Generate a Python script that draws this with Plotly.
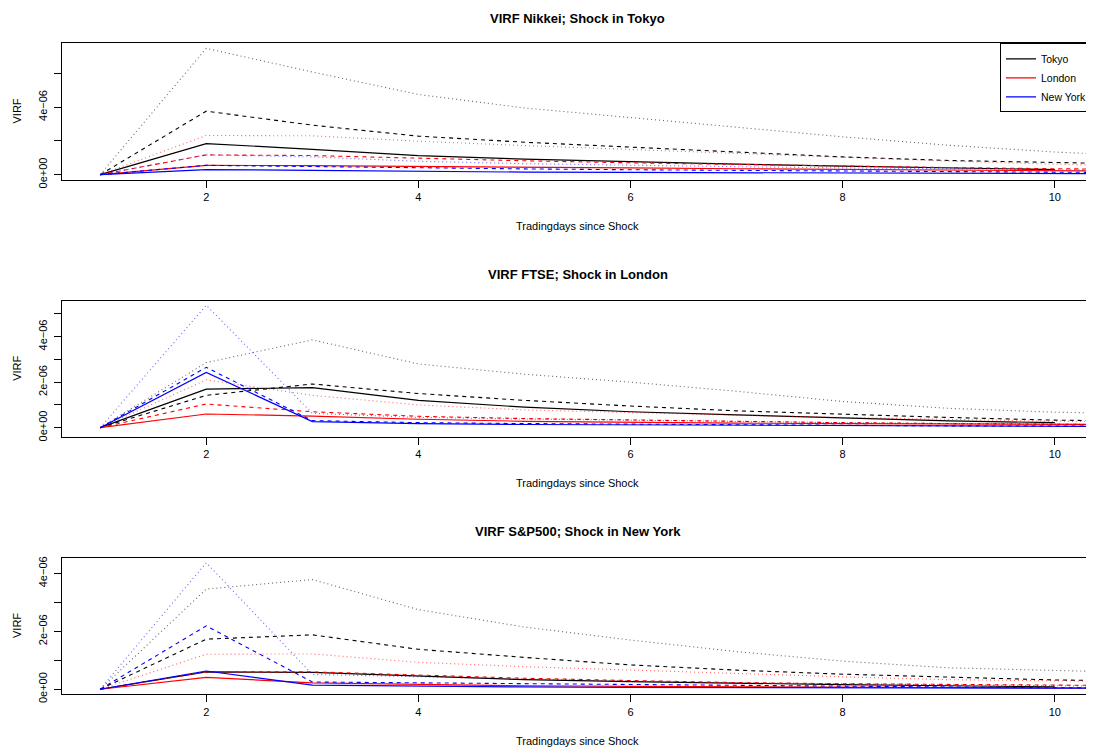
import plotly.graph_objects as go

# ---------------- data ----------------
days = [1, 2, 3, 4, 5, 6, 7, 8, 9, 10, 11]
x_ticks = [2, 4, 6, 8, 10]

cities = ["Tokyo", "London", "New York"]
city_colors = ["#000000", "#FF0000", "#0000FF"]

panel_titles = ["VIRF Nikkei; Shock in Tokyo",
                "VIRF FTSE; Shock in London",
                "VIRF S&P500; Shock in New York"]
x_title = "Tradingdays since Shock"
y_title = "VIRF"

# values in units of 1e-06
# Panel 1: Nikkei, shock in Tokyo
p1_tokyo_est = [0, 1.84, 1.50, 1.13, 0.92, 0.75, 0.62, 0.50, 0.40, 0.30]
p1_tokyo_q1 = [0, 3.76, 2.93, 2.28, 1.92, 1.64, 1.36, 1.05, 0.84, 0.69, 0.60]
p1_tokyo_q2 = [0, 7.48, 6.08, 4.75, 3.95, 3.39, 2.79, 2.24, 1.74, 1.34, 1.05]
p1_london_est = [0, 0.55, 0.53, 0.50, 0.45, 0.40, 0.35, 0.30, 0.26, 0.22, 0.19]
p1_london_q1 = [0, 1.17, 1.13, 0.97, 0.82, 0.70, 0.60, 0.50, 0.42, 0.35, 0.30]
p1_london_q2 = [0, 2.32, 2.30, 1.98, 1.72, 1.48, 1.24, 1.00, 0.80, 0.62, 0.50]
p1_ny_est = [0, 0.30, 0.25, 0.18, 0.15, 0.13, 0.11, 0.09, 0.07, 0.06, 0.05]
p1_ny_q1 = [0, 0.55, 0.48, 0.40, 0.34, 0.29, 0.24, 0.20, 0.16, 0.13, 0.11]
p1_ny_q2 = [0, 1.17, 1.05, 0.79, 0.65, 0.55, 0.47, 0.40, 0.34, 0.28, 0.24]

# Panel 2: FTSE, shock in London
p2_tokyo_est = [0, 1.69, 1.76, 1.20, 0.90, 0.70, 0.56, 0.42, 0.30, 0.22]
p2_tokyo_q1 = [0, 1.42, 1.92, 1.50, 1.20, 0.95, 0.74, 0.59, 0.45, 0.33, 0.28]
p2_tokyo_q2 = [0, 2.86, 3.86, 2.80, 2.35, 2.00, 1.60, 1.15, 0.85, 0.68, 0.60]
p2_london_est = [0, 0.60, 0.51, 0.37, 0.28, 0.23, 0.20, 0.18, 0.16, 0.14, 0.13]
p2_london_q1 = [0, 1.04, 0.70, 0.50, 0.40, 0.33, 0.27, 0.22, 0.18, 0.14, 0.12]
p2_london_q2 = [0, 2.10, 1.42, 1.00, 0.78, 0.65, 0.55, 0.45, 0.36, 0.28, 0.24]
p2_ny_est = [0, 2.43, 0.27, 0.18, 0.14, 0.12, 0.10, 0.08, 0.07, 0.06, 0.05]
p2_ny_q1 = [0, 2.65, 0.31, 0.22, 0.18, 0.15, 0.12, 0.10, 0.08, 0.07, 0.06]
p2_ny_q2 = [0, 5.38, 0.63, 0.45, 0.38, 0.32, 0.27, 0.22, 0.18, 0.15, 0.13]

# Panel 3: S&P500, shock in New York
p3_tokyo_est = [0, 0.60, 0.58, 0.45, 0.33, 0.26, 0.20, 0.16, 0.12, 0.08]
p3_tokyo_q1 = [0, 1.73, 1.88, 1.38, 1.10, 0.84, 0.66, 0.52, 0.42, 0.32, 0.28]
p3_tokyo_q2 = [0, 3.46, 3.79, 2.75, 2.15, 1.70, 1.30, 0.97, 0.74, 0.63, 0.56]
p3_london_est = [0, 0.41, 0.22, 0.16, 0.12, 0.10, 0.08, 0.07, 0.06, 0.05, 0.04]
p3_london_q1 = [0, 0.60, 0.60, 0.49, 0.38, 0.30, 0.23, 0.19, 0.16, 0.14, 0.12]
p3_london_q2 = [0, 1.21, 1.22, 0.93, 0.78, 0.66, 0.55, 0.43, 0.33, 0.28, 0.25]
p3_ny_est = [0, 0.63, 0.14, 0.10, 0.08, 0.06, 0.05, 0.04, 0.04, 0.03, 0.03]
p3_ny_q1 = [0, 2.19, 0.25, 0.22, 0.18, 0.15, 0.12, 0.09, 0.07, 0.05, 0.04]
p3_ny_q2 = [0, 4.37, 0.51, 0.43, 0.35, 0.28, 0.22, 0.18, 0.14, 0.11, 0.09]

panel_series = [
    [(p1_tokyo_est, p1_tokyo_q1, p1_tokyo_q2),
     (p1_london_est, p1_london_q1, p1_london_q2),
     (p1_ny_est, p1_ny_q1, p1_ny_q2)],
    [(p2_tokyo_est, p2_tokyo_q1, p2_tokyo_q2),
     (p2_london_est, p2_london_q1, p2_london_q2),
     (p2_ny_est, p2_ny_q1, p2_ny_q2)],
    [(p3_tokyo_est, p3_tokyo_q1, p3_tokyo_q2),
     (p3_london_est, p3_london_q1, p3_london_q2),
     (p3_ny_est, p3_ny_q1, p3_ny_q2)],
]

y_tickvals = [[0, 2e-6, 4e-6, 6e-6],
              [0, 1e-6, 2e-6, 3e-6, 4e-6, 5e-6],
              [0, 1e-6, 2e-6, 3e-6, 4e-6]]
y_ticktext = [["0e+00", "", "4e\u221206", ""],
              ["0e+00", "", "2e\u221206", "", "4e\u221206", ""],
              ["0e+00", "", "2e\u221206", "", "4e\u221206"]]
y_ranges = [[-0.30e-6, 7.78e-6], [-0.41e-6, 5.58e-6], [-0.175e-6, 4.545e-6]]

# ---------------- layout geometry (pixels in the window) ----------------
OFF = 8  # default page body margin
W, H = 1094 - OFF, 751 - OFF
FONT = "Liberation Sans, Arial, Helvetica, sans-serif"
box_left, box_right = 62 - OFF, 1093 - OFF
box_tops = [t - OFF for t in [43.3, 300.7, 557.7]]
box_bottoms = [b - OFF for b in [179.7, 437.0, 694.3]]
title_y = [t - OFF for t in [18, 274, 531]]
xlab_y = [t - OFF for t in [226, 483, 741]]
ylab_x = 17 - OFF

def px(v):
    return v / W

def py(v):
    return 1 - v / H

fig = go.Figure()
dash_styles = ["solid", "4px,4px", "1px,3px"]
widths = [1.2, 1.1, 1.1]
opacities = [1.0, 1.0, 0.6]

for p in range(3):
    xa = "x" if p == 0 else f"x{p+1}"
    ya = "y" if p == 0 else f"y{p+1}"
    for c, city in enumerate(cities):
        for s in range(3):
            vals = panel_series[p][c][s]
            fig.add_trace(go.Scatter(
                x=days[:len(vals)], y=[v * 1e-6 for v in vals],
                mode="lines", opacity=opacities[s],
                line=dict(color=city_colors[c], width=widths[s], dash=dash_styles[s]),
                name=city, legendgroup=city,
                showlegend=(p == 0 and s == 0),
                xaxis=xa, yaxis=ya, hoverinfo="skip"))

layout = dict(
    width=W, height=H,
    margin=dict(l=0, r=0, t=0, b=0, autoexpand=False),
    paper_bgcolor="white", plot_bgcolor="white",
    font=dict(family=FONT, size=11, color="black"),
    showlegend=True,
    legend=dict(x=px(box_right), y=py(box_tops[0]), xanchor="right", yanchor="top",
                xref="paper", yref="paper",
                bordercolor="black", borderwidth=1, bgcolor="white",
                font=dict(size=10.5, family=FONT), itemwidth=30,
                tracegroupgap=0),
)

axis_common = dict(showgrid=False, zeroline=False, showline=True, linecolor="black",
                   linewidth=1, mirror=True, ticks="outside", ticklen=7,
                   tickcolor="black", tickwidth=1, automargin=False,
                   tickfont=dict(size=11, family=FONT, color="black"))

annotations = []
for p in range(3):
    sx = "" if p == 0 else str(p + 1)
    ydom = [py(box_bottoms[p]), py(box_tops[p])]
    layout[f"xaxis{sx}"] = dict(axis_common, domain=[px(box_left), px(box_right)],
                                range=[0.64, 10.36], tickvals=x_ticks,
                                ticktext=[str(t) for t in x_ticks],
                                anchor=f"y{sx}")
    layout[f"yaxis{sx}"] = dict(axis_common, domain=ydom, range=y_ranges[p],
                                tickvals=y_tickvals[p], ticktext=y_ticktext[p],
                                tickangle=-90, ticklabelstandoff=3, anchor=f"x{sx}")
    annotations.append(dict(text=f"<b>{panel_titles[p]}</b>", x=px((box_left + box_right) / 2),
                            y=py(title_y[p]), xref="paper", yref="paper",
                            showarrow=False, xanchor="center", yanchor="middle",
                            font=dict(size=13, family=FONT)))
    annotations.append(dict(text=x_title, x=px((box_left + box_right) / 2),
                            y=py(xlab_y[p]), xref="paper", yref="paper",
                            showarrow=False, xanchor="center", yanchor="middle",
                            font=dict(size=11, family=FONT)))
    annotations.append(dict(text=y_title, x=px(ylab_x),
                            y=py((box_tops[p] + box_bottoms[p]) / 2), xref="paper", yref="paper",
                            showarrow=False, xanchor="center", yanchor="middle",
                            textangle=-90, font=dict(size=11, family=FONT)))

layout["annotations"] = annotations
fig.update_layout(**layout)

fig.write_html("out.html")
